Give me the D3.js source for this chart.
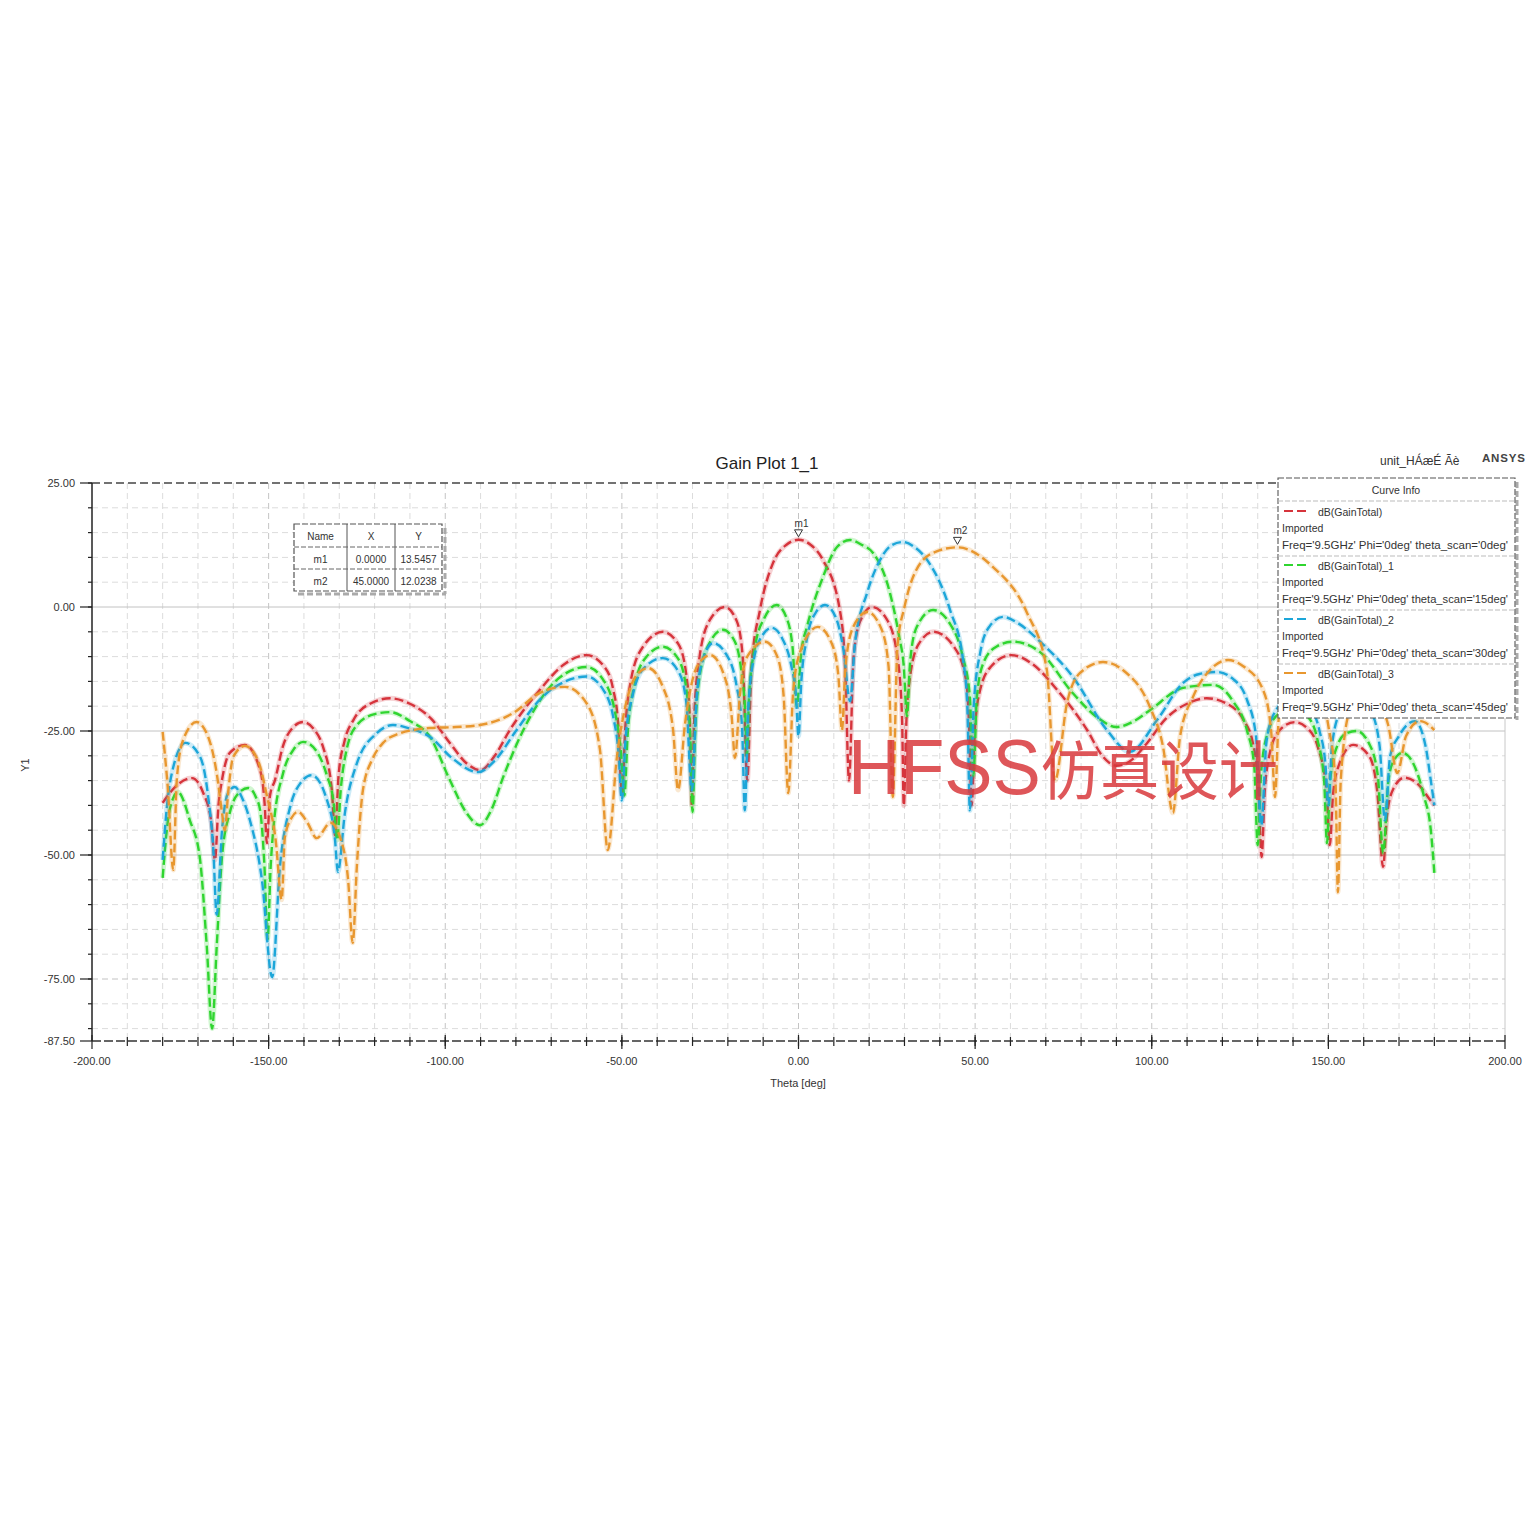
<!DOCTYPE html>
<html><head><meta charset="utf-8">
<script src="https://cdn.jsdelivr.net/npm/d3@7"></script>
<style>
body{margin:0;background:#fff}
svg{display:block}
text{font-family:"Liberation Sans",Arial,sans-serif}
</style>
</head><body>
<svg id="chart" width="1540" height="1540"></svg>
<script>
// ---------- data ----------
const xTickValues = [-200, -150, -100, -50, 0, 50, 100, 150, 200];
const yTickValues = [25, 0, -25, -50, -75, -87.5];
const seriesNames = ["dB(GainTotal)", "dB(GainTotal)_1", "dB(GainTotal)_2", "dB(GainTotal)_3"];
const seriesInfo = [
  "Freq='9.5GHz' Phi='0deg' theta_scan='0deg'",
  "Freq='9.5GHz' Phi='0deg' theta_scan='15deg'",
  "Freq='9.5GHz' Phi='0deg' theta_scan='30deg'",
  "Freq='9.5GHz' Phi='0deg' theta_scan='45deg'"
];
const seriesColors = ["#d6343c", "#2fd52f", "#1ca6d9", "#e8972f"];

// theta [deg], gain [dB]
const gainScan0 = [
  [-180,-39.5],[-176.5,-36.3],[-171.7,-34.5],[-168.5,-37.5],[-166.2,-43.5],[-165.2,-51],[-164.2,-40],[-163.2,-34.9],[-161,-29.4],[-156.7,-27.8],[-152.4,-32.9],[-151.1,-40],[-150.5,-47.6],[-149.6,-38],[-148.2,-34.9],[-146,-28.2],[-143,-24.2],[-140.3,-23.2],[-137,-24.8],[-134.6,-28.2],[-132.1,-36.9],[-131.2,-46],[-130.2,-34],[-128.5,-27],[-126,-22.8],[-121,-19.4],[-115.6,-18.4],[-110,-19.5],[-104,-22.5],[-98.7,-27.4],[-94,-31.5],[-90,-32.9],[-86,-30],[-81.7,-24.8],[-73.2,-16.7],[-66.6,-11.7],[-60,-9.7],[-55,-12],[-52.5,-16.5],[-51,-24],[-50,-38],[-49,-24],[-47.5,-15],[-44,-8],[-38.4,-5],[-34,-7.5],[-31.7,-14],[-30.8,-22],[-30.2,-40],[-29.5,-22],[-28,-10],[-25,-2.5],[-20.8,0],[-17.5,-2.8],[-15.8,-10],[-14.5,-35],[-13.3,-12],[-10.9,-0.6],[-7.2,8.9],[-3.5,12.5],[0,13.55],[3.5,12.5],[6.9,9.5],[11.7,-0.6],[13.2,-12],[14.3,-35],[15.6,-10],[17.5,-2.8],[20.8,0],[25,-2.5],[28,-10],[29.3,-22],[29.8,-40],[30.6,-22],[31.6,-14],[34,-7.5],[38.2,-5],[44,-8],[47.5,-15],[48.3,-24],[49,-40],[50,-24],[51.5,-16.5],[54.5,-12],[60.2,-9.7],[66.6,-11.7],[73.2,-16.7],[81.7,-24.8],[86,-30],[90,-32],[94,-31],[98.7,-27.4],[104,-22.5],[110,-19.5],[115.6,-18.4],[121,-19.4],[126,-22.8],[128.5,-27],[130.2,-36],[131.1,-50.4],[132,-37],[133,-31],[136,-25],[140.5,-23.2],[144,-24.4],[147,-28.2],[149.5,-37],[150.4,-48],[151.3,-38],[152.5,-32.9],[157,-27.8],[161.5,-30],[163.8,-37],[165.5,-52.4],[166.6,-42],[168.5,-36.5],[171.5,-34.4],[175.5,-35.8],[178.8,-38.9],[180,-40]
];
const gainScan15 = [
  [-180,-54.6],[-178.5,-43],[-177,-38.5],[-175.7,-37.3],[-172.3,-43],[-169.5,-50.4],[-167.5,-68.5],[-166,-85],[-164.7,-68.5],[-163.2,-50.4],[-161,-41.5],[-158.5,-37.5],[-155.8,-36.5],[-153.5,-38.5],[-152.4,-41],[-151.2,-52],[-150.3,-67],[-149.4,-52],[-148.7,-45],[-145.9,-33.5],[-143,-28.8],[-140.2,-27.2],[-136.5,-29],[-133.5,-34],[-131.6,-39.5],[-130.6,-47],[-129.6,-37],[-128,-29],[-125,-23.8],[-120,-21.6],[-115.6,-21.2],[-110,-23],[-104.3,-26.2],[-98.7,-34.9],[-94,-41.5],[-90.2,-44],[-87,-41],[-83.6,-34.3],[-76,-22.2],[-68.4,-14.7],[-60,-12.1],[-55,-15],[-52,-21],[-50.3,-29],[-49.3,-38],[-48.3,-25],[-46.5,-16],[-43,-10],[-38.4,-8],[-34,-10.5],[-31.5,-18],[-30.6,-27],[-30,-41.3],[-29.3,-26],[-28,-14],[-25,-7],[-21.4,-4.6],[-18,-7],[-16,-14],[-15.1,-21],[-14.6,-30],[-14,-18],[-12.3,-8],[-9.5,-2],[-6.2,0.4],[-3.5,-2],[-1.7,-8],[-0.5,-20],[0.8,-9],[2.4,-4],[6.9,6],[10.9,12.1],[14.6,13.5],[18,12.5],[21.1,10.9],[25.9,2.8],[28.5,-6],[29.8,-12],[30.7,-22],[31.6,-11],[33.5,-4],[38.1,-0.6],[43,-3.5],[46.5,-10],[48.5,-18],[49.5,-34],[50.5,-18],[52.5,-11],[56,-8],[60.7,-7],[68.4,-9.1],[77.7,-17.4],[85,-22.5],[90,-24.2],[95,-23],[99.5,-20.8],[108.9,-16.3],[117.4,-15.7],[123,-19],[127,-25],[129,-32],[130,-48],[131,-33],[133,-25],[136,-21.5],[140,-20.5],[144,-22],[147,-27],[148.8,-35],[149.6,-47.6],[150.5,-35],[152.5,-28],[155,-25.5],[158,-25],[161.5,-27.5],[164,-34],[165.5,-49.6],[167,-35],[168.5,-31],[171,-29.4],[174,-31.5],[177,-38],[179,-45],[180,-53.6]
];
const gainScan30 = [
  [-180,-51],[-178.8,-40.3],[-177,-32.3],[-173.6,-27.4],[-169.4,-30.2],[-167.1,-38.3],[-165.7,-48.4],[-164.7,-62],[-163.2,-45],[-161.5,-37.5],[-159.6,-36.3],[-157.5,-38.5],[-155.3,-43],[-151.9,-55],[-149,-74.6],[-146.8,-52.4],[-143.9,-40.3],[-141,-35.5],[-137.8,-33.9],[-133.5,-38.9],[-131.2,-47],[-130.4,-53.4],[-128.4,-41.5],[-125,-31.5],[-119.3,-25.4],[-114.8,-23.8],[-110,-24.5],[-104.3,-26.2],[-98,-30.5],[-90.7,-33.3],[-86,-31],[-80,-25],[-73,-18.5],[-66,-15],[-60,-14],[-55,-17],[-52.5,-22],[-51,-29],[-50,-39],[-49,-27],[-47,-18],[-44,-12.5],[-38.4,-10.3],[-34,-13],[-31.8,-19],[-30.2,-37],[-28.8,-18],[-27,-10.5],[-24.2,-7.3],[-20.5,-9.5],[-17.5,-16],[-16,-24],[-15.2,-41],[-14.2,-20],[-12.5,-10],[-10,-5.5],[-7.6,-4.2],[-4.5,-6.5],[-2,-12],[-0.7,-18],[0,-26],[0.8,-15],[2.5,-6],[5,-1],[7.5,0.4],[10.5,-2],[12.8,-9],[14.6,-19],[16,-7.3],[19.4,2.8],[23.1,9.5],[26.5,12.5],[29.6,13.1],[33,12],[36.4,9.5],[42.9,-0.6],[46.6,-10.7],[47.8,-20],[48.5,-41],[49.6,-20],[51.5,-9],[54,-4],[57.9,-2],[62,-3.2],[68.4,-7],[77.7,-14.1],[87.3,-24.8],[93.8,-29.2],[101.5,-22.8],[108.9,-15.3],[113.5,-13.5],[118.5,-13.1],[123,-14.5],[127,-18.8],[129.5,-26],[131,-44],[132.5,-27],[135,-21],[140,-18],[144,-19.5],[147.5,-25],[149.2,-32],[150,-40],[151,-28],[153.5,-21],[158,-18.5],[162,-21],[164.5,-28],[166,-43],[167.5,-30],[170,-26],[174.5,-23],[177.5,-28],[179,-35],[180,-40]
];
const gainScan45 = [
  [-180,-25.2],[-178.5,-36.9],[-177,-53],[-176,-34.9],[-174.2,-26.8],[-170.4,-23.2],[-167.1,-26.2],[-164.7,-33.5],[-163.2,-41.5],[-162.4,-45],[-161.4,-37],[-160,-30.2],[-156.7,-28],[-153,-31],[-150.5,-38],[-148,-47],[-146.3,-59],[-145.4,-46.4],[-143.5,-42.5],[-141.7,-41.3],[-139,-43.5],[-136.4,-46.6],[-132.5,-43.5],[-129.5,-47],[-127.5,-55],[-126.2,-67.7],[-125,-52],[-123.3,-36.9],[-120.5,-30.5],[-117.6,-27.4],[-113,-25.5],[-109,-24.8],[-104.3,-24.4],[-97,-24.2],[-90.2,-23.8],[-80.8,-21.4],[-73.2,-17.3],[-66.1,-16.1],[-60,-19.4],[-56.2,-28.8],[-54,-49],[-51.4,-30.2],[-48.6,-18.8],[-45.8,-13.7],[-42.6,-12.3],[-38.4,-16.1],[-35.5,-24.8],[-34.1,-36.9],[-32.1,-23.4],[-29.8,-14.1],[-27.4,-10.7],[-25,-9.7],[-21.3,-13.3],[-18.9,-22.2],[-18,-30.4],[-16.5,-17],[-14.5,-10],[-9.5,-7],[-6,-10],[-4.2,-18],[-2.9,-37.5],[-1.5,-17],[0.5,-9],[5.5,-4],[9.5,-7.5],[11.3,-14],[12.3,-24.8],[13.3,-12],[15.5,-4],[19.5,-1],[23.5,-4.5],[25.5,-12],[26.7,-38.3],[28,-8],[30,0],[32.4,6],[38,10.9],[45,12.03],[55,8.1],[64.7,-1.2],[70.3,-12.7],[72.6,-35],[76,-19.4],[79.7,-13.3],[86.2,-11.1],[92,-12.8],[99.5,-20.2],[103.2,-28.2],[106,-41.5],[108,-26.2],[111.7,-18.1],[116.5,-12.7],[121.6,-10.7],[126,-12],[131.5,-16.7],[133.8,-25],[134.9,-38.3],[136,-22],[139,-15],[143,-13],[147,-16],[150,-24],[152,-35],[152.7,-57.5],[153.5,-35],[156,-21],[160,-17],[164,-19],[167,-24],[169.5,-33.5],[172,-26],[176,-23],[180,-24.8]
];
const seriesData = [gainScan0, gainScan15, gainScan30, gainScan45];

const markerNames = ["m1", "m2"];
const markerX = [0, 45];
const markerY = [13.5457, 12.0238];
const markerXText = ["0.0000", "45.0000"];
const markerYText = ["13.5457", "12.0238"];

// ---------- drawing ----------
const svg = d3.select("#chart");
const L = 92, R = 1505, T = 483, B = 1041;
const x = d3.scaleLinear().domain([-200, 200]).range([L, R]);
const y = d3.scaleLinear().domain([-87.5, 25]).range([B, T]);
const fmt = d3.formatLocale({decimal: ".", thousands: ",", grouping: [3], currency: ["", ""], minus: "-"}).format(".2f");
const TXT = "#333";

// grid
const grid = svg.append("g");
grid.selectAll("line.vg").data(d3.range(-190, 200, 10)).join("line")
  .attr("x1", d => x(d)).attr("x2", d => x(d)).attr("y1", T).attr("y2", B)
  .attr("stroke", d => d % 50 === 0 ? "#c4c4c4" : "#dcdcdc")
  .attr("stroke-width", 1).attr("stroke-dasharray", "6,4");
grid.selectAll("line.hg").data(d3.range(20, -87, -5)).join("line")
  .attr("x1", L).attr("x2", R).attr("y1", d => y(d)).attr("y2", d => y(d))
  .attr("stroke", d => d % 25 === 0 ? "#c2c2c2" : "#dcdcdc")
  .attr("stroke-width", 1)
  .attr("stroke-dasharray", d => (d % 25 === 0 && d > -75) ? null : "6,4");
svg.append("line").attr("x1", R).attr("x2", R).attr("y1", T).attr("y2", B)
  .attr("stroke", "#c8c8c8").attr("stroke-width", 1);

// curves
const line = d3.line().x(d => x(d[0])).y(d => y(d[1])).curve(d3.curveMonotoneX);
const curves = svg.append("g");
seriesData.forEach((data, i) => {
  curves.append("path").datum(data).attr("d", line)
    .attr("fill", "none").attr("stroke", seriesColors[i]).attr("stroke-opacity", 0.22)
    .attr("stroke-width", 5);
  curves.append("path").datum(data).attr("d", line)
    .attr("fill", "none").attr("stroke", seriesColors[i])
    .attr("stroke-width", 2.4).attr("stroke-dasharray", "9,4");
});

// axes frame
svg.append("line").attr("x1", L).attr("x2", R).attr("y1", T).attr("y2", T)
  .attr("stroke", "#444").attr("stroke-width", 1.3).attr("stroke-dasharray", "8,4");
svg.append("line").attr("x1", L).attr("x2", R).attr("y1", B).attr("y2", B)
  .attr("stroke", "#333").attr("stroke-width", 1.5).attr("stroke-dasharray", "9,3");
svg.append("line").attr("x1", L).attr("x2", L).attr("y1", T).attr("y2", B)
  .attr("stroke", "#222").attr("stroke-width", 1.5);

// y ticks
svg.selectAll("line.ytm").data(d3.range(25, -88, -5)).join("line")
  .attr("x1", L - 4).attr("x2", L).attr("y1", d => y(d)).attr("y2", d => y(d))
  .attr("stroke", "#222").attr("stroke-width", 1.2);
svg.selectAll("line.ytM").data(yTickValues).join("line")
  .attr("x1", L - 12).attr("x2", L).attr("y1", d => y(d)).attr("y2", d => y(d))
  .attr("stroke", "#222").attr("stroke-width", 1.2);
svg.selectAll("text.ytl").data(yTickValues).join("text")
  .attr("x", 75).attr("y", d => y(d) + 4).attr("text-anchor", "end")
  .attr("font-size", 11).attr("fill", TXT).text(d => fmt(d));

// x ticks
svg.selectAll("line.xtm").data(d3.range(-190, 200, 10)).join("line")
  .attr("x1", d => x(d)).attr("x2", d => x(d)).attr("y1", B - 4).attr("y2", B + 5)
  .attr("stroke", "#222").attr("stroke-width", 1.2);
svg.selectAll("line.xtM").data(xTickValues).join("line")
  .attr("x1", d => x(d)).attr("x2", d => x(d)).attr("y1", B - 6).attr("y2", B + 8)
  .attr("stroke", "#222").attr("stroke-width", 1.2);
svg.selectAll("text.xtl").data(xTickValues).join("text")
  .attr("x", d => x(d)).attr("y", 1065).attr("text-anchor", "middle")
  .attr("font-size", 11).attr("fill", TXT).text(d => fmt(d));

// axis labels and titles
svg.append("text").attr("x", 798).attr("y", 1087).attr("text-anchor", "middle")
  .attr("font-size", 11).attr("fill", TXT).text("Theta [deg]");
svg.append("text").attr("transform", "translate(29,765) rotate(-90)")
  .attr("text-anchor", "middle").attr("font-size", 11).attr("fill", TXT).text("Y1");
svg.append("text").attr("x", 767).attr("y", 469).attr("text-anchor", "middle")
  .attr("font-size", 17).attr("fill", "#222").text("Gain Plot 1_1");
svg.append("text").attr("x", 1380).attr("y", 465)
  .attr("font-size", 12).attr("fill", TXT).text("unit_HÁæÉ Ãè");
svg.append("text").attr("x", 1482).attr("y", 462)
  .attr("font-size", 11.5).attr("font-weight", "bold").attr("fill", "#444")
  .attr("letter-spacing", 0.8).text("ANSYS");

// watermark (single text element)
const wm = svg.append("text").attr("x", 848).attr("y", 794)
  .attr("textLength", 430).attr("lengthAdjust", "spacingAndGlyphs")
  .style("fill", "#d8383c").style("fill-opacity", 0.85);
wm.append("tspan").attr("font-family", "'Liberation Sans Narrow','Arial Narrow','Liberation Sans',sans-serif")
  .attr("font-size", 78).text("HFSS");
wm.append("tspan").attr("font-family", "'Noto Sans CJK SC',sans-serif")
  .attr("font-size", 64).text("仿真设计");

// markers
markerNames.forEach((m, i) => {
  const px = x(markerX[i]), py = y(markerY[i]);
  svg.append("path")
    .attr("d", `M${px - 4},${py - 10} L${px + 4},${py - 10} L${px},${py - 3} Z`)
    .attr("fill", "#fff").attr("stroke", "#333").attr("stroke-width", 1);
  svg.append("text").attr("x", px + 3).attr("y", py - 13).attr("text-anchor", "middle")
    .attr("font-size", 10).attr("fill", TXT).text(m);
});

// marker table
const tb = svg.append("g");
const tX = [294, 347, 395, 442], tY = [524, 547, 569, 591];
tb.append("line").attr("x1", 298).attr("x2", 446).attr("y1", 594).attr("y2", 594)
  .attr("stroke", "#aaa").attr("stroke-width", 3).attr("stroke-dasharray", "6,3");
tb.append("line").attr("x1", 445).attr("x2", 445).attr("y1", 528).attr("y2", 594)
  .attr("stroke", "#aaa").attr("stroke-width", 3).attr("stroke-dasharray", "6,3");
tb.append("rect").attr("x", tX[0]).attr("y", tY[0]).attr("width", tX[3] - tX[0]).attr("height", tY[3] - tY[0])
  .attr("fill", "#fff").attr("stroke", "#555").attr("stroke-width", 1.2).attr("stroke-dasharray", "6,2");
[tX[1], tX[2]].forEach(v => tb.append("line").attr("x1", v).attr("x2", v).attr("y1", tY[0]).attr("y2", tY[3])
  .attr("stroke", "#555").attr("stroke-width", 1));
[tY[1], tY[2]].forEach(v => tb.append("line").attr("x1", tX[0]).attr("x2", tX[3]).attr("y1", v).attr("y2", v)
  .attr("stroke", "#666").attr("stroke-width", 1).attr("stroke-dasharray", "5,2"));
const tRows = [["Name", "X", "Y"]].concat(markerNames.map((m, i) => [m, markerXText[i], markerYText[i]]));
tRows.forEach((row, r) => row.forEach((c, k) => {
  tb.append("text").attr("x", (tX[k] + tX[k + 1]) / 2).attr("y", tY[r] + 16)
    .attr("text-anchor", "middle").attr("font-size", 10).attr("fill", TXT).text(c);
}));

// legend
const lg = svg.append("g");
const lx0 = 1278, lx1 = 1515, ly0 = 478, ly1 = 718;
lg.append("line").attr("x1", lx1 + 2).attr("x2", lx1 + 2).attr("y1", ly0 + 4).attr("y2", ly1 + 2)
  .attr("stroke", "#aaa").attr("stroke-width", 3).attr("stroke-dasharray", "6,3");
lg.append("rect").attr("x", lx0).attr("y", ly0).attr("width", lx1 - lx0).attr("height", ly1 - ly0)
  .attr("fill", "#fff").attr("stroke", "#555").attr("stroke-width", 1.1).attr("stroke-dasharray", "6,2");
lg.append("text").attr("x", 1396).attr("y", 494).attr("text-anchor", "middle")
  .attr("font-size", 10.5).attr("fill", TXT).text("Curve Info");
lg.append("line").attr("x1", lx0).attr("x2", lx1).attr("y1", 501).attr("y2", 501)
  .attr("stroke", "#bbb").attr("stroke-dasharray", "5,2");
seriesNames.forEach((n, i) => {
  const oy = 502 + i * 54;
  lg.append("line").attr("x1", 1284).attr("x2", 1308).attr("y1", oy + 9).attr("y2", oy + 9)
    .attr("stroke", seriesColors[i]).attr("stroke-width", 2).attr("stroke-dasharray", "9,4");
  lg.append("text").attr("x", 1318).attr("y", oy + 14).attr("font-size", 10.5).attr("fill", TXT).text(n);
  lg.append("text").attr("x", 1282).attr("y", oy + 30).attr("font-size", 10.5).attr("fill", TXT).text("Imported");
  lg.append("text").attr("x", 1282).attr("y", oy + 47).attr("font-size", 10.5).attr("fill", TXT)
    .attr("textLength", 226).attr("lengthAdjust", "spacingAndGlyphs").text(seriesInfo[i]);
  if (i < 3) lg.append("line").attr("x1", lx0).attr("x2", lx1).attr("y1", oy + 54).attr("y2", oy + 54)
    .attr("stroke", "#bbb").attr("stroke-dasharray", "5,2");
});
</script>
</body></html>
